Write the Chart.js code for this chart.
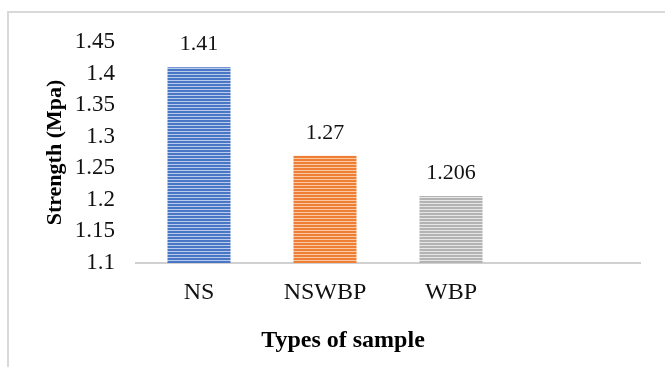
<!DOCTYPE html>
<html>
<head>
<meta charset="utf-8">
<script src="https://cdn.jsdelivr.net/npm/chart.js@4/dist/chart.umd.min.js"></script>
<style>
  html, body { margin: 0; padding: 0; background: #ffffff; }
  #wrap { width: 665px; height: 367px; }
</style>
</head>
<body>
<div id="wrap"><canvas id="chart" width="665" height="367"></canvas></div>
<script>
// Sample types and measured strength
const categories = ['NS', 'NSWBP', 'WBP', ''];
const strength = [1.41, 1.27, 1.206, null];
const valueLabels = ['1.41', '1.27', '1.206', ''];

// Value axis range
const yMin = 1.1;
const yMax = 1.45;
const yStep = 0.05;

const xTitle = 'Types of sample';
const yTitle = 'Strength (Mpa)';

const serif = '"Liberation Serif", "Times New Roman", serif';

// Horizontal striped fill for each bar
function stripes(base, line) {
  const c = document.createElement('canvas');
  c.width = 4;
  c.height = 3;
  const g = c.getContext('2d');
  g.fillStyle = base;
  g.fillRect(0, 0, 4, 3);
  g.fillStyle = line;
  g.fillRect(0, 2, 4, 1);
  return g.createPattern(c, 'repeat');
}

const barFills = [
  stripes('#4a76c6', '#b9cbeb'),
  stripes('#ef7f34', '#f9c9a6'),
  stripes('#b3b3b3', '#e6e6e6'),
  '#ffffff'
];

// Light frame along the top and left edges
const framePlugin = {
  id: 'frame',
  beforeDraw(chart) {
    const ctx = chart.ctx;
    ctx.save();
    ctx.fillStyle = '#ffffff';
    ctx.fillRect(0, 0, chart.width, chart.height);
    ctx.strokeStyle = '#d9d9d9';
    ctx.lineWidth = 2;
    ctx.beginPath();
    ctx.moveTo(8, chart.height);
    ctx.lineTo(8, 12);
    ctx.lineTo(chart.width, 12);
    ctx.stroke();
    ctx.restore();
  }
};

// Value written above each bar, plus the category axis title
const valuePlugin = {
  id: 'values',
  afterDatasetsDraw(chart) {
    const ctx = chart.ctx;
    const meta = chart.getDatasetMeta(0);
    ctx.save();
    ctx.font = '22px ' + serif;
    ctx.fillStyle = '#111111';
    ctx.textAlign = 'center';
    ctx.textBaseline = 'alphabetic';
    meta.data.forEach((bar, i) => {
      if (strength[i] == null) return;
      ctx.fillText(valueLabels[i], bar.x, bar.y - 17);
    });
    ctx.font = 'bold 24px ' + serif;
    ctx.fillStyle = '#000000';
    ctx.textBaseline = 'middle';
    ctx.fillText(xTitle, 343, 341);
    ctx.restore();
  }
};

new Chart(document.getElementById('chart'), {
  type: 'bar',
  data: {
    labels: categories,
    datasets: [{
      data: strength,
      backgroundColor: barFills,
      borderWidth: 0,
      categoryPercentage: 1,
      barPercentage: 0.5
    }]
  },
  options: {
    responsive: false,
    animation: false,
    devicePixelRatio: 1,
    layout: { padding: { top: 42, right: 25, left: 0, bottom: 0 } },
    plugins: {
      legend: { display: false },
      tooltip: { enabled: false }
    },
    scales: {
      x: {
        grid: { display: false, drawTicks: false },
        border: { display: true, color: '#d0d0d0', width: 2 },
        ticks: {
          color: '#111111',
          padding: 15,
          font: { family: serif, size: 24 }
        },
        afterFit(scale) { scale.height = 104; }
      },
      y: {
        min: yMin,
        max: yMax,
        grid: { display: false, drawTicks: false },
        border: { display: false },
        ticks: {
          stepSize: yStep,
          color: '#111111',
          padding: 21,
          font: { family: serif, size: 23 },
          callback: v => String(Number(v.toFixed(2)))
        },
        title: {
          display: true,
          text: yTitle,
          color: '#000000',
          font: { family: serif, size: 22, weight: 'bold' },
          padding: { top: 42, bottom: 0 }
        },
        afterFit(scale) { scale.width = 136; }
      }
    }
  },
  plugins: [framePlugin, valuePlugin]
});
</script>
</body>
</html>
